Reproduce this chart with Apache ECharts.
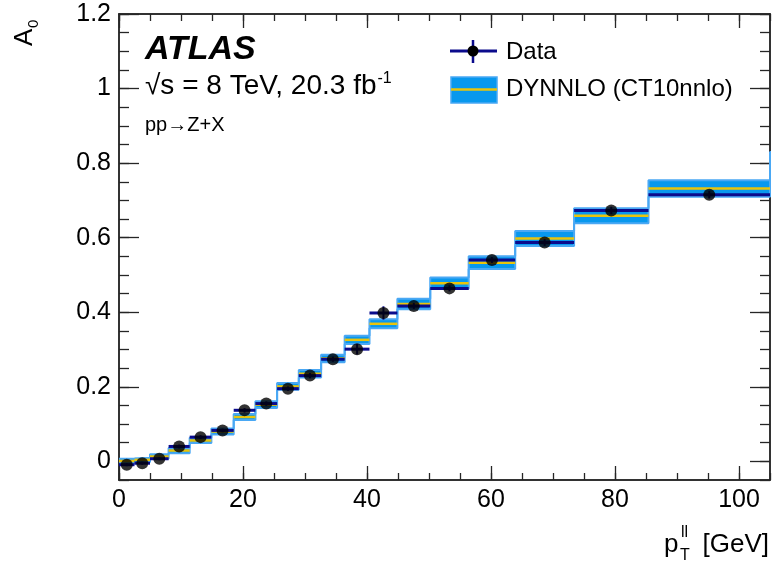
<!DOCTYPE html>
<html>
<head>
<meta charset="utf-8">
<script src="https://cdn.jsdelivr.net/npm/echarts@6/dist/echarts.min.js"></script>
<style>
  html, body { margin: 0; padding: 0; background: #ffffff; }
  #chart { width: 772px; height: 563px; }
</style>
</head>
<body>
<div id="chart"></div>
<script>
// pT(ll) bin edges [GeV]; the last bin lies past the plotted range
const binEdges = [0, 2.5, 5.0, 8.0, 11.4, 14.9, 18.5, 22.0, 25.5, 29.0, 32.6, 36.4,
                  40.4, 44.9, 50.2, 56.4, 63.9, 73.4, 85.4, 105.0, 132.0];

// Measured A0 per bin and its uncertainty
const dataA0  = [-0.009, -0.005, 0.007, 0.040, 0.065, 0.083, 0.137, 0.155, 0.195, 0.230,
                 0.274, 0.301, 0.398, 0.417, 0.464, 0.540, 0.587, 0.673, 0.715];
const dataErr = [0.004, 0.004, 0.004, 0.005, 0.005, 0.005, 0.006, 0.006, 0.006, 0.007,
                 0.007, 0.014, 0.018, 0.008, 0.008, 0.008, 0.009, 0.010, 0.010];

// DYNNLO (CT10nnlo) prediction: central value and half-width of the band
const predA0  = [0.001, 0.004, 0.013, 0.029, 0.056, 0.080, 0.119, 0.152, 0.201, 0.235,
                 0.276, 0.326, 0.369, 0.422, 0.478, 0.533, 0.598, 0.659, 0.732, 0.805];
const predUnc = [0.006, 0.006, 0.006, 0.007, 0.007, 0.008, 0.008, 0.009, 0.009, 0.010,
                 0.010, 0.011, 0.012, 0.014, 0.015, 0.017, 0.020, 0.020, 0.022, 0.025];

// Tick positions
const xMajorTicks = [0, 20, 40, 60, 80, 100];
const xMinorTicks = [0, 5, 10, 15, 20, 25, 30, 35, 40, 45, 50, 55, 60, 65, 70, 75, 80, 85, 90, 95, 100, 105];
const yMajorTicks = [0, 0.2, 0.4, 0.6, 0.8, 1, 1.2];
const yMinorTicks = [-0.05, 0, 0.05, 0.1, 0.15, 0.2, 0.25, 0.3, 0.35, 0.4, 0.45, 0.5, 0.55, 0.6,
                     0.65, 0.7, 0.75, 0.8, 0.85, 0.9, 0.95, 1, 1.05, 1.1, 1.15, 1.2];

const X_MIN = 0, X_MAX = 105, Y_MIN = -0.05, Y_MAX = 1.2;

const FONT = "'Liberation Sans', Arial, Helvetica, sans-serif";
const FRAME = '#262626';
const BAND_FILL = '#0898ee';
const BAND_EDGE = '#4aa8f4';
const YELLOW = '#e9c40c';
const NAVY = '#0b0b8c';

// Series rows built from the arrays above
const bandRows = predA0.map((v, i) => [binEdges[i], binEdges[i + 1], v - predUnc[i], v + predUnc[i], v]);
const upperEdge = [], lowerEdge = [];
predA0.forEach((v, i) => {
  upperEdge.push([binEdges[i], v + predUnc[i]], [binEdges[i + 1], v + predUnc[i]]);
  lowerEdge.push([binEdges[i], v - predUnc[i]], [binEdges[i + 1], v - predUnc[i]]);
});
const dataRows = dataA0.map((v, i) => [binEdges[i], binEdges[i + 1], v, dataErr[i]]);
const dataPoints = dataA0.map((v, i) => [(binEdges[i] + binEdges[i + 1]) / 2, v]);

function clip(rect, params) {
  return echarts.graphic.clipRectByRect(rect, {
    x: params.coordSys.x, y: params.coordSys.y,
    width: params.coordSys.width, height: params.coordSys.height
  });
}

function xAxisDef(position, ticks, len, labels) {
  return {
    type: 'value', min: X_MIN, max: X_MAX, position: position,
    axisLine: { show: true, onZero: false, lineStyle: { color: FRAME, width: 1.5 } },
    axisTick: { show: true, inside: true, length: len, customValues: ticks,
                lineStyle: { color: FRAME, width: 1.3 } },
    axisLabel: labels ? { show: true, customValues: xMajorTicks, color: '#000',
                          fontFamily: FONT, fontSize: 25, margin: 8 } : { show: false },
    splitLine: { show: false }
  };
}
function yAxisDef(position, ticks, len, labels) {
  return {
    type: 'value', min: Y_MIN, max: Y_MAX, position: position,
    axisLine: { show: true, onZero: false, lineStyle: { color: FRAME, width: 1.5 } },
    axisTick: { show: true, inside: true, length: len, customValues: ticks,
                lineStyle: { color: FRAME, width: 1.3 } },
    axisLabel: labels ? { show: true, customValues: yMajorTicks, color: '#000',
                          fontFamily: FONT, fontSize: 25, margin: 8,
                          formatter: v => String(+v.toFixed(2)) } : { show: false },
    splitLine: { show: false }
  };
}

// text width helper for the superscript placement
const measureCtx = document.createElement('canvas').getContext('2d');
function textWidth(str, font) { measureCtx.font = font; return measureCtx.measureText(str).width; }

const lumiMain = '\u221As = 8 TeV, 20.3 fb';
const lumiFont = '28px ' + FONT;
const lumiX = 145;
const lumiW = textWidth(lumiMain, lumiFont);

const chart = echarts.init(document.getElementById('chart'), null, { renderer: 'canvas' });

chart.setOption({
  animation: false,
  backgroundColor: '#ffffff',
  grid: { left: 119, right: 2, top: 14, bottom: 83, containLabel: false },
  xAxis: [
    xAxisDef('bottom', xMajorTicks, 14, true),
    xAxisDef('bottom', xMinorTicks, 7, false),
    xAxisDef('top', xMajorTicks, 14, false),
    xAxisDef('top', xMinorTicks, 7, false)
  ],
  yAxis: [
    yAxisDef('left', yMajorTicks, 20, true),
    yAxisDef('left', yMinorTicks, 10, false),
    yAxisDef('right', yMajorTicks, 20, false),
    yAxisDef('right', yMinorTicks, 10, false)
  ],
  series: [
    {
      // prediction uncertainty band
      type: 'custom', name: 'DYNNLO band', xAxisIndex: 0, yAxisIndex: 0,
      data: bandRows, z: 2,
      renderItem(params, api) {
        const p0 = api.coord([api.value(0), api.value(3)]);
        const p1 = api.coord([api.value(1), api.value(2)]);
        const r = clip({ x: p0[0], y: p0[1], width: p1[0] - p0[0], height: p1[1] - p0[1] }, params);
        if (!r) return null;
        return { type: 'rect', shape: r, style: { fill: BAND_FILL } };
      }
    },
    {
      type: 'line', name: 'band upper', data: upperEdge, xAxisIndex: 0, yAxisIndex: 0,
      symbol: 'none', z: 3, clip: true,
      lineStyle: { color: BAND_EDGE, width: 2 }
    },
    {
      type: 'line', name: 'band lower', data: lowerEdge, xAxisIndex: 0, yAxisIndex: 0,
      symbol: 'none', z: 3, clip: true,
      lineStyle: { color: BAND_EDGE, width: 2 }
    },
    {
      // prediction central value
      type: 'custom', name: 'DYNNLO', xAxisIndex: 0, yAxisIndex: 0,
      data: bandRows, z: 4,
      renderItem(params, api) {
        const a = api.coord([api.value(0), api.value(4)]);
        const b = api.coord([Math.min(api.value(1), X_MAX), api.value(4)]);
        if (a[0] >= b[0]) return null;
        return { type: 'line', shape: { x1: a[0], y1: a[1], x2: b[0], y2: b[1] },
                 style: { stroke: YELLOW, lineWidth: 2.5 } };
      }
    },
    {
      // data: bin-width bar and vertical uncertainty
      type: 'custom', name: 'Data bars', xAxisIndex: 0, yAxisIndex: 0,
      data: dataRows, z: 5,
      renderItem(params, api) {
        const lo = api.value(0), hi = api.value(1), v = api.value(2), e = api.value(3);
        const a = api.coord([lo, v]), b = api.coord([hi, v]);
        const c = api.coord([(lo + hi) / 2, v + e]), d = api.coord([(lo + hi) / 2, v - e]);
        return { type: 'group', children: [
          { type: 'line', shape: { x1: a[0], y1: a[1], x2: b[0], y2: b[1] },
            style: { stroke: NAVY, lineWidth: 3 } },
          { type: 'line', shape: { x1: c[0], y1: c[1], x2: d[0], y2: d[1] },
            style: { stroke: NAVY, lineWidth: 2 } }
        ] };
      }
    },
    {
      type: 'scatter', name: 'Data', data: dataPoints, xAxisIndex: 0, yAxisIndex: 0,
      symbol: 'circle', symbolSize: 12, z: 6,
      itemStyle: { color: '#000000' }
    }
  ],
  graphic: [
    // experiment label
    { type: 'text', x: 145, y: 50, z: 10,
      style: { text: 'ATLAS', font: 'italic bold 34px ' + FONT, fill: '#000',
               textAlign: 'left', verticalAlign: 'middle' } },
    { type: 'text', x: lumiX, y: 86, z: 10,
      style: { text: lumiMain, font: lumiFont, fill: '#000', textAlign: 'left', verticalAlign: 'middle' } },
    { type: 'text', x: lumiX + lumiW + 1, y: 79, z: 10,
      style: { text: '-1', font: '16px ' + FONT, fill: '#000', textAlign: 'left', verticalAlign: 'middle' } },
    { type: 'text', x: 145, y: 125, z: 10,
      style: { text: 'pp\u2192Z+X', font: '20px ' + FONT, fill: '#000', textAlign: 'left', verticalAlign: 'middle' } },

    // legend: data entry
    { type: 'line', z: 10, shape: { x1: 450, y1: 51, x2: 497, y2: 51 }, style: { stroke: NAVY, lineWidth: 3 } },
    { type: 'line', z: 10, shape: { x1: 473, y1: 40, x2: 473, y2: 63 }, style: { stroke: NAVY, lineWidth: 2.5 } },
    { type: 'circle', z: 11, shape: { cx: 473, cy: 51, r: 5.5 }, style: { fill: '#000' } },
    { type: 'text', x: 506, y: 52, z: 10,
      style: { text: 'Data', font: '24px ' + FONT, fill: '#000', textAlign: 'left', verticalAlign: 'middle' } },
    // legend: prediction entry
    { type: 'rect', z: 10, shape: { x: 451, y: 77, width: 46, height: 26 },
      style: { fill: BAND_FILL, stroke: BAND_EDGE, lineWidth: 1.5 } },
    { type: 'line', z: 11, shape: { x1: 451, y1: 89.5, x2: 497, y2: 89.5 }, style: { stroke: YELLOW, lineWidth: 2.5 } },
    { type: 'text', x: 506, y: 89, z: 10,
      style: { text: 'DYNNLO (CT10nnlo)', font: '24px ' + FONT, fill: '#000', textAlign: 'left', verticalAlign: 'middle' } },

    // x axis title: p_T^ll [GeV]
    { type: 'text', x: 769, y: 545, z: 10,
      style: { text: '[GeV]', font: '26px ' + FONT, fill: '#000', textAlign: 'right', verticalAlign: 'middle' } },
    { type: 'text', x: 664, y: 545, z: 10,
      style: { text: 'p', font: '26px ' + FONT, fill: '#000', textAlign: 'left', verticalAlign: 'middle' } },
    { type: 'text', x: 681, y: 533, z: 10,
      style: { text: 'll', font: '16px ' + FONT, fill: '#000', textAlign: 'left', verticalAlign: 'middle' } },
    { type: 'text', x: 680, y: 556, z: 10,
      style: { text: 'T', font: '16px ' + FONT, fill: '#000', textAlign: 'left', verticalAlign: 'middle' } },

    // y axis title: A_0, rotated
    { type: 'group', x: 38, y: 46, rotation: Math.PI / 2, z: 10, children: [
      { type: 'text', x: 0, y: 0,
        style: { text: 'A', font: '26px ' + FONT, fill: '#000', textAlign: 'left', verticalAlign: 'bottom' } },
      { type: 'text', x: 18, y: 3,
        style: { text: '0', font: '15px ' + FONT, fill: '#000', textAlign: 'left', verticalAlign: 'bottom' } }
    ] }
  ]
});
</script>
</body>
</html>
